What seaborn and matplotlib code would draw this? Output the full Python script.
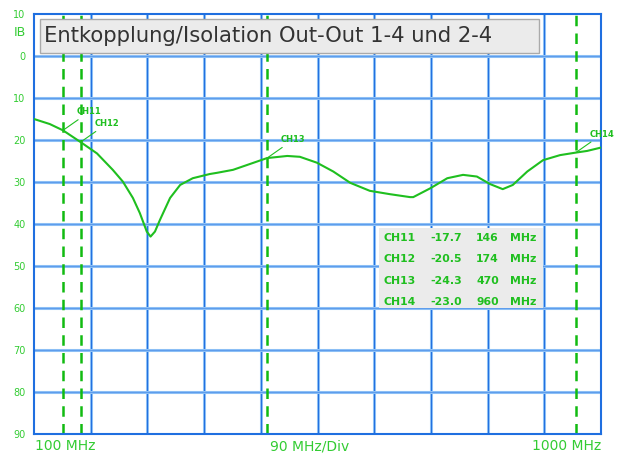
import matplotlib
matplotlib.use("Agg")
import matplotlib.pyplot as plt
import matplotlib.patches as mpatches
import pandas as pd
import seaborn as sns

# trace (MHz, dB attenuation)
freq_mhz = [100, 125, 146, 174, 200, 225, 241, 257, 268, 279, 285, 292, 300, 316,
            332, 352, 379, 391, 416, 443, 470, 502, 522, 549, 575, 602, 633, 665,
            697, 702, 729, 756, 781, 803, 824, 844, 860, 883, 908, 935, 960, 978,
            1000]
level_db = [15.0, 16.2, 17.7, 20.5, 23.2, 27.1, 29.9, 33.8, 37.4, 41.8, 43.0, 41.8,
            39.0, 33.8, 30.7, 29.1, 28.1, 27.8, 27.1, 25.7, 24.3, 23.8, 24.0, 25.4,
            27.5, 30.2, 32.1, 32.9, 33.6, 33.6, 31.5, 29.1, 28.3, 28.7, 30.5, 31.7,
            30.7, 27.5, 24.8, 23.6, 23.0, 22.6, 21.8]

marker_names = ["CH11", "CH12", "CH13", "CH14"]
marker_freq = [146, 174, 470, 960]
marker_level = [17.7, 20.5, 24.3, 23.0]

y_ticks = [-10, 0, 10, 20, 30, 40, 50, 60, 70, 80, 90]
y_tick_labels = ["10", "0", "10", "20", "30", "40", "50", "60", "70", "80", "90"]

TRACE = "#1fbf1f"
LABEL = "#33cc33"
GRID_LIGHT = "#8cbff5"
GRID_DARK = "#1f6fe0"

df = pd.DataFrame({"freq": freq_mhz, "level": level_db})

sns.set_style("white")
fig = plt.figure(figsize=(6.2, 4.55), dpi=100)
ax = fig.add_axes([34 / 620, 1 - 434 / 455, 567 / 620, 420 / 455])

# grid: 90 MHz / div, 10 dB / div
for i in range(1, 10):
    x = 100 + 90 * i
    ax.axvline(x, color=GRID_LIGHT, lw=2.2, zorder=1)
    ax.axvline(x, color=GRID_DARK, lw=0.7, zorder=1)
for y in range(0, 90, 10):
    ax.axhline(y, color=GRID_LIGHT, lw=2.2, zorder=1)
    ax.axhline(y, color=GRID_DARK, lw=0.5, alpha=0.6, zorder=1)

for f in marker_freq:
    ax.axvline(f, color="#11bb11", lw=1.8, ls=(0, (4.2, 2.9)), zorder=2)

sns.lineplot(data=df, x="freq", y="level", color=TRACE, lw=1.5, ax=ax, zorder=3)

for name, f, lv in zip(marker_names, marker_freq, marker_level):
    ax.annotate(name, xy=(f, lv), xytext=(10, 10), textcoords="offset points",
                fontsize=6, fontweight="bold", color=TRACE, ha="left", va="bottom",
                arrowprops=dict(arrowstyle="-", color=TRACE, lw=0.8, shrinkA=0, shrinkB=0),
                zorder=4)

ax.set_xlim(100, 1000)
ax.set_ylim(90, -10)
ax.set_yticks(y_ticks)
ax.set_yticklabels(y_tick_labels)
ax.set_xticks([])
ax.tick_params(axis="y", length=0, labelsize=7, labelcolor=LABEL, pad=6)
ax.set_xlabel("")
ax.set_ylabel("")
for s in ax.spines.values():
    s.set_color(GRID_DARK)
    s.set_linewidth(1.5)

ax.text(-0.025, 0.957, "IB", transform=ax.transAxes, fontsize=9, color=LABEL,
        ha="center", va="center")

# title box
ax.add_patch(mpatches.Rectangle((0.0106, 0.907), 0.88, 0.081, transform=ax.transAxes,
                                facecolor="#ebebeb", edgecolor="#aaaaaa", lw=1, zorder=5))
ax.text(0.018, 0.947, "Entkopplung/Isolation Out-Out 1-4 und 2-4",
        transform=ax.transAxes, fontsize=15.2, color="#333333", ha="left", va="center",
        zorder=6)

# marker readout table
ax.add_patch(mpatches.Rectangle((0.608, 0.3), 0.29, 0.19, transform=ax.transAxes,
                                facecolor="#ebebeb", edgecolor="none", zorder=5))
for i, (name, f, lv) in enumerate(zip(marker_names, marker_freq, marker_level)):
    yy = 0.467 - i * 0.051
    kw = dict(transform=ax.transAxes, fontsize=7.8, fontweight="bold", color=TRACE,
              va="center", zorder=6)
    ax.text(0.617, yy, name, ha="left", **kw)
    ax.text(0.755, yy, f"{-lv:.1f}", ha="right", **kw)
    ax.text(0.82, yy, f"{f}", ha="right", **kw)
    ax.text(0.84, yy, "MHz", ha="left", **kw)

# frequency labels under the screen
ty = 1 - 446 / 455
fig.text(35 / 620, ty, "100 MHz", fontsize=10, color=LABEL, ha="left", va="center")
fig.text(0.5, ty, "90 MHz/Div", fontsize=10, color=LABEL, ha="center", va="center")
fig.text(601 / 620, ty, "1000 MHz", fontsize=10, color=LABEL, ha="right", va="center")

fig.savefig("out.png", dpi=100, facecolor="white")
plt.close(fig)
